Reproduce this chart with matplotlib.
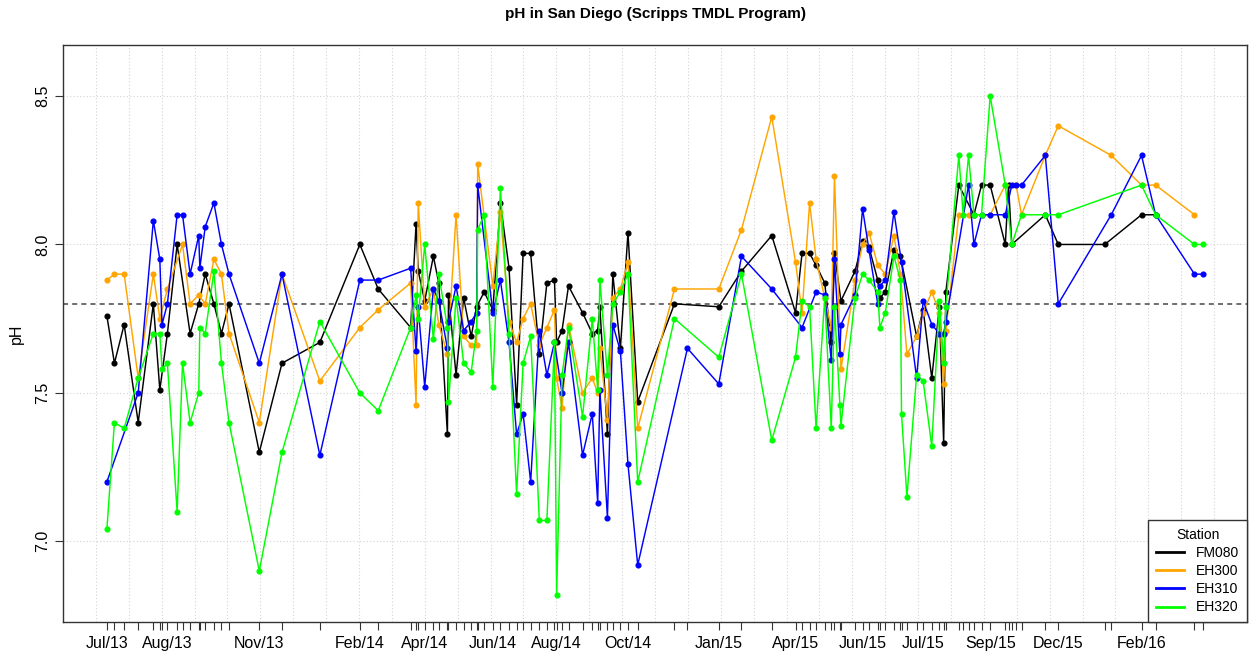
import numpy as np
import pandas as pd
import matplotlib
matplotlib.use("Agg")
import matplotlib.pyplot as plt
import matplotlib.dates as mdates
from matplotlib.lines import Line2D

plt.rcParams['font.family'] = ['Liberation Sans', 'DejaVu Sans']

# sampling dates and pH per station
fm080_dates = ["2013-07-05", "2013-07-12", "2013-07-21", "2013-08-03", "2013-08-17", "2013-08-23",
               "2013-08-30", "2013-09-08", "2013-09-20", "2013-09-28", "2013-10-04", "2013-10-12",
               "2013-10-19", "2013-10-26", "2013-11-23", "2013-12-14",
               "2014-01-18", "2014-02-24", "2014-03-13", "2014-04-12", "2014-04-17", "2014-04-19",
               "2014-04-25", "2014-05-03", "2014-05-08", "2014-05-16", "2014-05-17", "2014-05-24",
               "2014-05-31", "2014-06-07", "2014-06-12", "2014-06-19", "2014-06-27", "2014-07-04",
               "2014-07-12", "2014-07-19", "2014-07-25", "2014-08-01", "2014-08-09", "2014-08-16",
               "2014-08-23", "2014-08-25", "2014-08-30", "2014-09-05", "2014-09-18", "2014-09-27",
               "2014-10-02", "2014-10-04", "2014-10-11", "2014-10-16", "2014-10-23", "2014-10-30",
               "2014-11-08", "2014-12-12",
               "2015-01-22", "2015-02-12", "2015-03-12", "2015-04-03", "2015-04-09", "2015-04-16",
               "2015-04-22", "2015-04-30", "2015-05-06", "2015-05-09", "2015-05-15", "2015-05-28",
               "2015-06-04", "2015-06-10", "2015-06-18", "2015-06-20", "2015-06-25", "2015-07-03",
               "2015-07-09", "2015-07-24", "2015-07-30", "2015-08-07", "2015-08-14", "2015-08-18",
               "2015-08-20", "2015-09-01", "2015-09-15", "2015-09-22", "2015-09-30", "2015-10-14",
               "2015-10-17", "2015-10-20", "2015-11-20", "2015-12-02",
               "2016-01-14", "2016-02-17", "2016-03-01"]
fm080_ph = [7.76, 7.60, 7.73, 7.40, 7.80, 7.51, 7.70, 8.00, 7.70, 7.80, 7.90, 7.80, 7.70, 7.80, 7.30, 7.60,
            7.67, 8.00, 7.85, 7.72, 8.07, 7.91, 7.81, 7.96, 7.87, 7.36, 7.83, 7.56, 7.82, 7.69, 7.79, 7.84,
            7.78, 8.14, 7.92, 7.46, 7.97, 7.97, 7.63, 7.87, 7.88, 7.67, 7.71, 7.86, 7.77, 7.70, 7.71, 7.79,
            7.36, 7.90, 7.65, 8.04, 7.47, 7.80,
            7.79, 7.91, 8.03, 7.77, 7.97, 7.97, 7.93, 7.87, 7.67, 7.97, 7.81, 7.91, 8.01, 7.99, 7.88, 7.82,
            7.84, 7.98, 7.96, 7.69, 7.78, 7.55, 7.79, 7.33, 7.84, 8.20, 8.10, 8.20, 8.20, 8.00, 8.20, 8.00,
            8.10, 8.00,
            8.00, 8.10, 8.10]

eh300_dates = ["2013-07-05", "2013-07-12", "2013-07-21", "2013-08-03", "2013-08-17", "2013-08-23",
               "2013-08-30", "2013-09-13", "2013-09-20", "2013-09-28", "2013-10-04", "2013-10-12",
               "2013-10-19", "2013-10-26", "2013-11-23", "2013-12-14",
               "2014-01-18", "2014-02-24", "2014-03-13", "2014-04-12", "2014-04-17", "2014-04-19",
               "2014-04-25", "2014-05-03", "2014-05-08", "2014-05-16", "2014-05-24", "2014-05-31",
               "2014-06-07", "2014-06-12", "2014-06-13", "2014-06-27", "2014-07-04", "2014-07-12",
               "2014-07-19", "2014-07-25", "2014-08-01", "2014-08-09", "2014-08-16", "2014-08-23",
               "2014-08-25", "2014-08-30", "2014-09-05", "2014-09-18", "2014-09-27", "2014-10-02",
               "2014-10-04", "2014-10-11", "2014-10-16", "2014-10-23", "2014-10-30", "2014-11-08",
               "2014-12-12",
               "2015-01-22", "2015-02-12", "2015-03-12", "2015-04-03", "2015-04-09", "2015-04-16",
               "2015-04-22", "2015-04-30", "2015-05-06", "2015-05-09", "2015-05-15", "2015-05-28",
               "2015-06-04", "2015-06-10", "2015-06-18", "2015-06-25", "2015-07-03", "2015-07-09",
               "2015-07-15", "2015-07-24", "2015-07-30", "2015-08-07", "2015-08-14", "2015-08-18",
               "2015-08-20", "2015-09-01", "2015-09-10", "2015-09-30", "2015-10-14", "2015-10-24",
               "2015-10-29", "2015-11-20", "2015-12-02",
               "2016-01-20", "2016-02-17", "2016-03-01", "2016-04-06"]
eh300_ph = [7.88, 7.90, 7.90, 7.55, 7.90, 7.75, 7.85, 8.00, 7.80, 7.83, 7.80, 7.95, 7.90, 7.70, 7.40, 7.90,
            7.54, 7.72, 7.78, 7.87, 7.46, 8.14, 7.79, 7.85, 7.73, 7.63, 8.10, 7.69, 7.66, 7.66, 8.27, 7.86,
            8.11, 7.74, 7.67, 7.75, 7.80, 7.66, 7.72, 7.78, 7.55, 7.45, 7.73, 7.50, 7.55, 7.50, 7.65, 7.41,
            7.82, 7.85, 7.94, 7.38, 7.85,
            7.85, 8.05, 8.43, 7.94, 7.77, 8.14, 7.95, 7.82, 7.72, 8.23, 7.58, 7.88, 8.00, 8.04, 7.93, 7.90,
            8.03, 7.90, 7.63, 7.69, 7.77, 7.84, 7.77, 7.53, 7.71, 8.10, 8.10, 8.10, 8.20, 8.20, 8.10, 8.30,
            8.40,
            8.30, 8.20, 8.20, 8.10]

eh310_dates = ["2013-07-05", "2013-08-03", "2013-08-17", "2013-08-23", "2013-08-25", "2013-08-30",
               "2013-09-08", "2013-09-13", "2013-09-20", "2013-09-28", "2013-09-29", "2013-10-04",
               "2013-10-12", "2013-10-19", "2013-10-26", "2013-11-23", "2013-12-14",
               "2014-01-18", "2014-02-24", "2014-03-13", "2014-04-12", "2014-04-17", "2014-04-19",
               "2014-04-25", "2014-05-03", "2014-05-08", "2014-05-16", "2014-05-17", "2014-05-24",
               "2014-05-31", "2014-06-07", "2014-06-12", "2014-06-13", "2014-06-27", "2014-07-04",
               "2014-07-12", "2014-07-19", "2014-07-25", "2014-08-01", "2014-08-09", "2014-08-16",
               "2014-08-23", "2014-08-30", "2014-09-05", "2014-09-18", "2014-09-27", "2014-10-02",
               "2014-10-04", "2014-10-11", "2014-10-16", "2014-10-23", "2014-10-30", "2014-11-08",
               "2014-12-24",
               "2015-01-22", "2015-02-12", "2015-03-12", "2015-04-09", "2015-04-22", "2015-04-30",
               "2015-05-06", "2015-05-09", "2015-05-14", "2015-05-15", "2015-05-28", "2015-06-04",
               "2015-06-10", "2015-06-18", "2015-06-20", "2015-06-25", "2015-07-03", "2015-07-10",
               "2015-07-24", "2015-07-30", "2015-08-07", "2015-08-14", "2015-08-18", "2015-08-20",
               "2015-09-10", "2015-09-15", "2015-09-22", "2015-09-30", "2015-10-14", "2015-10-20",
               "2015-10-24", "2015-10-29", "2015-11-20", "2015-12-02",
               "2016-01-20", "2016-02-17", "2016-03-01", "2016-04-06", "2016-04-14"]
eh310_ph = [7.20, 7.50, 8.08, 7.95, 7.73, 7.80, 8.10, 8.10, 7.90, 8.03, 7.92, 8.06, 8.14, 8.00, 7.90,
            7.60, 7.90,
            7.29, 7.88, 7.88, 7.92, 7.64, 7.79, 7.52, 7.85, 7.81, 7.65, 7.74, 7.86, 7.71, 7.74, 7.77,
            8.20, 7.77, 7.88, 7.67, 7.36, 7.43, 7.20, 7.71, 7.56, 7.67, 7.50, 7.67, 7.29, 7.43, 7.13,
            7.51, 7.08, 7.73, 7.64, 7.26, 6.92, 7.65,
            7.53, 7.96, 7.85, 7.72, 7.84, 7.83, 7.61, 7.95, 7.63, 7.73, 7.83, 8.12, 7.98, 7.80, 7.86,
            7.88, 8.11, 7.94, 7.55, 7.81, 7.73, 7.70, 7.70, 7.74, 8.20, 8.00, 8.10, 8.10, 8.10, 8.20,
            8.20, 8.20, 8.30, 7.80,
            8.10, 8.30, 8.10, 7.90, 7.90]

eh320_dates = ["2013-07-05", "2013-07-12", "2013-07-21", "2013-08-03", "2013-08-17", "2013-08-23",
               "2013-08-25", "2013-08-30", "2013-09-08", "2013-09-13", "2013-09-20", "2013-09-28",
               "2013-09-29", "2013-10-04", "2013-10-12", "2013-10-19", "2013-10-26", "2013-11-23",
               "2013-12-14",
               "2014-01-18", "2014-02-24", "2014-03-13", "2014-04-12", "2014-04-17", "2014-04-19",
               "2014-04-25", "2014-05-03", "2014-05-08", "2014-05-16", "2014-05-17", "2014-05-24",
               "2014-05-31", "2014-06-07", "2014-06-12", "2014-06-13", "2014-06-19", "2014-06-27",
               "2014-07-04", "2014-07-12", "2014-07-19", "2014-07-25", "2014-08-01", "2014-08-09",
               "2014-08-16", "2014-08-23", "2014-08-25", "2014-08-30", "2014-09-05", "2014-09-18",
               "2014-09-27", "2014-10-02", "2014-10-04", "2014-10-11", "2014-10-16", "2014-10-23",
               "2014-10-30", "2014-11-08", "2014-12-12",
               "2015-01-22", "2015-02-12", "2015-03-12", "2015-04-03", "2015-04-09", "2015-04-16",
               "2015-04-22", "2015-04-30", "2015-05-06", "2015-05-09", "2015-05-14", "2015-05-15",
               "2015-05-28", "2015-06-04", "2015-06-10", "2015-06-18", "2015-06-20", "2015-06-25",
               "2015-07-03", "2015-07-09", "2015-07-10", "2015-07-15", "2015-07-24", "2015-07-30",
               "2015-08-07", "2015-08-14", "2015-08-18", "2015-08-20", "2015-09-01", "2015-09-05",
               "2015-09-10", "2015-09-15", "2015-09-22", "2015-09-30", "2015-10-14", "2015-10-20",
               "2015-10-29", "2015-11-20", "2015-12-02",
               "2016-02-17", "2016-03-01", "2016-04-06", "2016-04-14"]
eh320_ph = [7.04, 7.40, 7.38, 7.55, 7.70, 7.70, 7.58, 7.60, 7.10, 7.60, 7.40, 7.50, 7.72, 7.70, 7.91,
            7.60, 7.40, 6.90, 7.30,
            7.74, 7.50, 7.44, 7.72, 7.83, 7.75, 8.00, 7.68, 7.90, 7.72, 7.47, 7.82, 7.60, 7.57, 7.71,
            8.05, 8.10, 7.52, 8.19, 7.70, 7.16, 7.60, 7.69, 7.07, 7.07, 7.67, 6.82, 7.56, 7.72, 7.42,
            7.75, 7.51, 7.88, 7.56, 7.80, 7.84, 7.90, 7.20, 7.75,
            7.62, 7.90, 7.34, 7.62, 7.81, 7.79, 7.38, 7.82, 7.38, 7.79, 7.46, 7.39, 7.82, 7.90, 7.88,
            7.84, 7.72, 7.77, 7.96, 7.88, 7.43, 7.15, 7.56, 7.54, 7.32, 7.81, 7.60, 7.79, 8.30, 8.10,
            8.30, 8.10, 8.10, 8.50, 8.20, 8.00, 8.10, 8.10, 8.10,
            8.20, 8.10, 8.00, 8.00]

station_names = ["FM080", "EH300", "EH310", "EH320"]
station_colors = ["black", "#FFA500", "#0000FF", "#00FF00"]

label_dates = ["2013-07-05", "2013-08-30", "2013-11-23", "2014-02-24", "2014-04-25", "2014-06-27",
               "2014-08-25", "2014-10-30", "2015-01-22", "2015-04-03", "2015-06-04", "2015-07-30",
               "2015-09-30", "2015-12-02", "2016-02-17"]
ph_target = 7.8
y_ticks = [7.0, 7.5, 8.0, 8.5]
y_range = (6.8, 8.6)

series = [(fm080_dates, fm080_ph), (eh300_dates, eh300_ph), (eh310_dates, eh310_ph), (eh320_dates, eh320_ph)]
for d, v in series:
    assert len(d) == len(v), (len(d), len(v))

fig = plt.figure(figsize=(12.52, 6.58), dpi=100)
ax = fig.add_axes([63 / 1252, 1 - 622 / 658, (1247 - 63) / 1252, (622 - 45) / 658])

all_dates = pd.to_datetime(sorted(set(sum([d for d, _ in series], []))))
x_all = mdates.date2num(all_dates)
pad = 0.04 * (x_all.max() - x_all.min())
xlim = (x_all.min() - pad, x_all.max() + pad)
ypad = 0.04 * (y_range[1] - y_range[0])
ylim = (y_range[0] - ypad, y_range[1] + ypad)

# background grid like R's grid(nx=36)
for gx in np.linspace(xlim[0], xlim[1], 37):
    ax.axvline(gx, color="#d3d3d3", ls=(0, (1, 2)), lw=0.8, zorder=0)
for gy in y_ticks:
    ax.axhline(gy, color="#d3d3d3", ls=(0, (1, 2)), lw=0.8, zorder=0)

ax.axhline(ph_target, color="#555555", ls=(0, (3, 2.5)), lw=1.2, zorder=1)

for (d, v), name, col in zip(series, station_names, station_colors):
    ax.plot(pd.to_datetime(d), v, "-o", color=col, lw=1.05, ms=3.4, label=name, zorder=2)

ax.set_xlim(xlim)
ax.set_ylim(ylim)

ax.set_xticks(mdates.date2num(all_dates), minor=True)
ax.set_xticks(mdates.date2num(pd.to_datetime(label_dates)))
ax.set_xticklabels([pd.Timestamp(s).strftime("%b/%y") for s in label_dates])
ax.tick_params(axis="x", which="both", length=6, width=0.8, color="#333333", labelsize=11.5, pad=4)
ax.set_yticks(y_ticks)
ax.set_yticklabels(["7.0", "7.5", "8.0", "8.5"])
ax.tick_params(axis="y", length=6, width=0.8, color="#333333", labelsize=11.5)
plt.setp(ax.get_yticklabels(), rotation=90, va="center")

for sp in ax.spines.values():
    sp.set_color("#333333")
    sp.set_linewidth(1.0)

ax.set_ylabel("pH", fontsize=11.5, labelpad=8)
fig.text(655 / 1252, 1 - 14 / 658, "pH in San Diego (Scripps TMDL Program)",
         ha="center", va="center", fontsize=11, fontweight="bold")

handles = [Line2D([0], [0], color=c, lw=2) for c in station_colors]
leg = ax.legend(handles, station_names, title="Station", loc="lower right", borderaxespad=0,
                fancybox=False, framealpha=1, edgecolor="#333333", fontsize=10,
                title_fontsize=10, handlelength=2.0, handletextpad=0.9, labelspacing=0.3,
                borderpad=0.55)
leg.get_frame().set_linewidth(1.0)

fig.savefig("out.png", dpi=100)
